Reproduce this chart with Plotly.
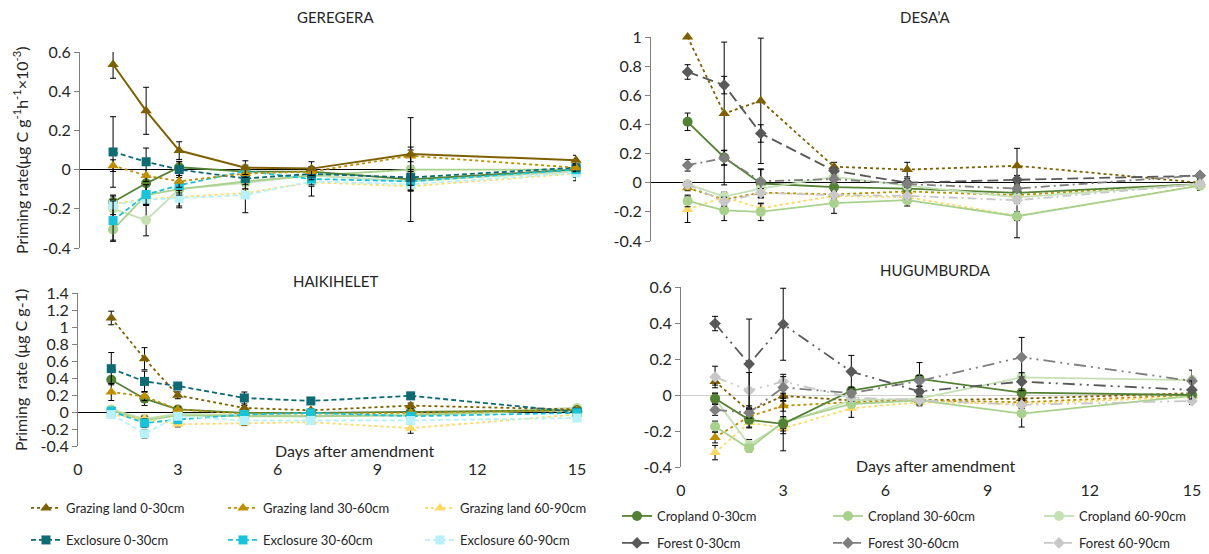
import plotly.graph_objects as go

DAYS = [1, 2, 3, 5, 7, 10, 15]
X_TICKS = [0, 3, 6, 9, 12, 15]
X_TICK_TEXT = ["0", "3", "6", "9", "12", "15"]

# ---------------- GEREGERA ----------------
ger_graz1 = [0.536, 0.30, 0.097, 0.01, 0.005, 0.08, 0.048]
ger_graz1_err = [0.07, 0.12, 0.045, 0.035, 0.035, 0.185, 0.025]
ger_graz2 = [0.02, -0.03, -0.06, -0.02, -0.01, 0.07, 0.01]
ger_graz2_err = [0.03, 0.03, 0.03, 0.02, 0.02, 0.03, 0.02]
ger_graz3 = [-0.175, -0.15, -0.14, -0.12, -0.065, -0.085, -0.02]
ger_graz3_err = [0.02, 0.02, 0.02, 0.02, 0.02, 0.02, 0.02]
ger_excl1 = [0.09, 0.04, 0.0, -0.045, -0.022, -0.04, 0.01]
ger_excl1_err = [0.18, 0.07, 0.04, 0.03, 0.03, 0.04, 0.02]
ger_excl2 = [-0.26, -0.127, -0.08, -0.007, -0.048, -0.06, 0.0]
ger_excl2_err = [0.1, 0.05, 0.05, 0.03, 0.03, 0.05, 0.02]
ger_excl3 = [-0.18, -0.153, -0.146, -0.13, -0.06, -0.075, -0.017]
ger_excl3_err = [0.05, 0.03, 0.04, 0.09, 0.075, 0.19, 0.04]
ger_crop1 = [-0.165, -0.07, 0.012, -0.01, -0.01, -0.05, 0.0]
ger_crop1_err = [0.03, 0.04, 0.03, 0.02, 0.02, 0.02, 0.02]
ger_crop2 = [-0.306, -0.13, -0.10, -0.06, -0.03, 0.0, 0.0]
ger_crop2_err = [0.06, 0.05, 0.03, 0.02, 0.02, 0.02, 0.02]
ger_crop3 = [-0.20, -0.258, -0.10, -0.068, -0.03, -0.06, -0.01]
ger_crop3_err = [0.05, 0.08, 0.095, 0.03, 0.02, 0.02, 0.02]

# ---------------- HAIKIHELET ----------------
hai_graz1 = [1.106, 0.627, 0.196, 0.047, 0.02, 0.075, 0.03]
hai_graz1_err = [0.08, 0.13, 0.04, 0.03, 0.02, 0.03, 0.02]
hai_graz2 = [0.235, 0.184, 0.03, -0.02, -0.02, -0.01, 0.02]
hai_graz2_err = [0.1, 0.05, 0.03, 0.02, 0.02, 0.02, 0.02]
hai_graz3 = [-0.03, -0.08, -0.145, -0.13, -0.12, -0.19, -0.03]
hai_graz3_err = [0.02, 0.03, 0.03, 0.03, 0.02, 0.06, 0.02]
hai_excl1 = [0.51, 0.36, 0.306, 0.165, 0.13, 0.19, 0.0]
hai_excl1_err = [0.19, 0.12, 0.03, 0.07, 0.02, 0.04, 0.02]
hai_excl2 = [0.01, -0.13, -0.09, -0.03, -0.01, -0.05, -0.01]
hai_excl2_err = [0.03, 0.05, 0.04, 0.03, 0.02, 0.02, 0.02]
hai_excl3 = [-0.03, -0.255, -0.05, -0.10, -0.10, -0.10, -0.07]
hai_excl3_err = [0.03, 0.05, 0.03, 0.03, 0.02, 0.02, 0.03]
hai_crop1 = [0.38, 0.157, 0.03, -0.01, -0.01, 0.0, 0.02]
hai_crop1_err = [0.03, 0.08, 0.02, 0.02, 0.02, 0.02, 0.02]
hai_crop2 = [0.02, -0.10, -0.04, -0.05, -0.05, -0.04, 0.03]
hai_crop2_err = [0.02, 0.05, 0.02, 0.02, 0.02, 0.02, 0.02]
hai_crop3 = [0.03, -0.08, -0.02, -0.04, -0.05, -0.03, 0.05]
hai_crop3_err = [0.02, 0.03, 0.02, 0.02, 0.02, 0.02, 0.02]

# ---------------- DESA'A ----------------
des_graz1 = [1.0, 0.475, 0.562, 0.11, 0.09, 0.116, 0.0]
des_graz1_err = [0.0, 0.49, 0.43, 0.03, 0.05, 0.12, 0.02]
des_graz2 = [-0.035, -0.115, -0.068, -0.08, -0.06, -0.085, -0.01]
des_graz2_err = [0.02, 0.03, 0.03, 0.02, 0.02, 0.02, 0.02]
des_graz3 = [-0.183, -0.10, -0.175, -0.09, -0.10, -0.228, -0.02]
des_graz3_err = [0.09, 0.03, 0.03, 0.03, 0.03, 0.15, 0.03]
des_crop1 = [0.418, 0.173, -0.005, -0.03, -0.04, -0.07, -0.01]
des_crop1_err = [0.06, 0.05, 0.1, 0.02, 0.02, 0.02, 0.02]
des_crop2 = [-0.125, -0.19, -0.20, -0.14, -0.12, -0.23, -0.02]
des_crop2_err = [0.04, 0.07, 0.06, 0.07, 0.04, 0.03, 0.03]
des_crop3 = [-0.01, -0.095, -0.04, 0.04, -0.02, -0.10, -0.01]
des_crop3_err = [0.02, 0.03, 0.03, 0.02, 0.02, 0.02, 0.02]
des_for1 = [0.76, 0.67, 0.338, 0.082, 0.0, 0.02, 0.048]
des_for1_err = [0.05, 0.06, 0.06, 0.02, 0.03, 0.03, 0.02]
des_for2 = [0.12, 0.17, 0.01, 0.025, -0.01, -0.04, 0.05]
des_for2_err = [0.04, 0.05, 0.08, 0.02, 0.02, 0.02, 0.02]
des_for3 = [-0.012, -0.13, -0.07, -0.085, -0.09, -0.12, -0.01]
des_for3_err = [0.02, 0.03, 0.03, 0.02, 0.02, 0.02, 0.02]

# ---------------- HUGUMBURDA ----------------
hug_graz1 = [0.075, -0.09, -0.005, -0.03, -0.03, -0.02, 0.01]
hug_graz1_err = [0.02, 0.03, 0.03, 0.02, 0.02, 0.02, 0.02]
hug_graz2 = [-0.236, -0.12, -0.06, -0.04, -0.03, -0.04, 0.0]
hug_graz2_err = [0.03, 0.04, 0.03, 0.02, 0.02, 0.02, 0.02]
hug_graz3 = [-0.32, -0.153, -0.185, -0.074, -0.04, -0.05, -0.01]
hug_graz3_err = [0.04, 0.03, 0.03, 0.05, 0.02, 0.02, 0.02]
hug_crop1 = [-0.02, -0.138, -0.16, 0.024, 0.09, 0.013, 0.0]
hug_crop1_err = [0.03, 0.04, 0.04, 0.02, 0.09, 0.02, 0.02]
hug_crop2 = [-0.175, -0.296, -0.15, -0.05, -0.03, -0.103, -0.005]
hug_crop2_err = [0.03, 0.02, 0.16, 0.02, 0.02, 0.075, 0.02]
hug_crop3 = [-0.02, -0.277, -0.157, -0.03, -0.02, 0.098, 0.083]
hug_crop3_err = [0.03, 0.03, 0.03, 0.02, 0.02, 0.02, 0.02]
hug_for1 = [0.397, 0.172, 0.393, 0.13, 0.02, 0.074, 0.028]
hug_for1_err = [0.04, 0.25, 0.2, 0.09, 0.03, 0.05, 0.05]
hug_for2 = [-0.083, -0.098, 0.042, 0.01, 0.078, 0.21, 0.078]
hug_for2_err = [0.03, 0.03, 0.06, 0.02, 0.03, 0.11, 0.06]
hug_for3 = [0.1, 0.025, 0.075, -0.015, -0.03, -0.055, -0.033]
hug_for3_err = [0.06, 0.1, 0.04, 0.02, 0.02, 0.02, 0.02]

# tick labels
GER_Y_TICKS = [-0.4, -0.2, 0, 0.2, 0.4, 0.6]
GER_Y_TEXT = ["-0.4", "-0.2", "0", "0.2", "0.4", "0.6"]
DES_Y_TICKS = [-0.4, -0.2, 0, 0.2, 0.4, 0.6, 0.8, 1.0]
DES_Y_TEXT = ["-0.4", "-0.2", "0", "0.2", "0.4", "0.6", "0.8", "1"]
HAI_Y_TICKS = [-0.4, -0.2, 0, 0.2, 0.4, 0.6, 0.8, 1.0, 1.2, 1.4]
HAI_Y_TEXT = ["-0.4", "-0.2", "0", "0.2", "0.4", "0.6", "0.8", "1", "1.2", "1.4"]
HUG_Y_TICKS = [-0.4, -0.2, 0, 0.2, 0.4, 0.6]
HUG_Y_TEXT = ["-0.4", "-0.2", "0", "0.2", "0.4", "0.6"]

# ---------------- styles ----------------
COL = {
    "g1": "#7F6000", "g2": "#BF8F00", "g3": "#FFD966",
    "e1": "#0E6A73", "e2": "#19C3DA", "e3": "#B8F1F9",
    "c1": "#548235", "c2": "#A9D18E", "c3": "#C5E0B4",
    "f1": "#595959", "f2": "#7F7F7F", "f3": "#C8C8C8",
}
SYM = {"g": "triangle-up", "e": "square", "c": "circle", "f": "diamond"}
SIZE = {"g": 10, "e": 9, "c": 10, "f": 9}
NAMES = {
    "g1": "Grazing land 0-30cm", "g2": "Grazing land 30-60cm", "g3": "Grazing land 60-90cm",
    "e1": "Exclosure 0-30cm", "e2": "Exclosure 30-60cm", "e3": "Exclosure 60-90cm",
    "c1": "Cropland 0-30cm", "c2": "Cropland 30-60cm", "c3": "Cropland 60-90cm",
    "f1": "Forest 0-30cm", "f2": "Forest 30-60cm", "f3": "Forest 60-90cm",
}
LEG = {"g": "legend", "e": "legend2", "c": "legend3", "f": "legend4"}
DASH_DEFAULT = {"g": "dot", "e": "5px,3px", "c": "solid", "f": "9px,4px,2px,4px"}

fig = go.Figure()


def add(key, y, err, xa, ya, show=False, dash=None, width=1.8):
    kind = key[0]
    fig.add_trace(go.Scatter(
        x=DAYS, y=y, xaxis=xa, yaxis=ya, name=NAMES[key],
        mode="lines+markers", cliponaxis=False,
        line=dict(color=COL[key], width=width, dash=dash or DASH_DEFAULT[kind]),
        marker=dict(symbol=SYM[kind], size=SIZE[kind], color=COL[key]),
        error_y=dict(type="data", array=err, color="black", thickness=1, width=3),
        showlegend=show, legend=LEG[kind],
    ))


# GEREGERA (x, y)
add("c3", ger_crop3, ger_crop3_err, "x", "y")
add("c2", ger_crop2, ger_crop2_err, "x", "y")
add("c1", ger_crop1, ger_crop1_err, "x", "y")
add("g3", ger_graz3, ger_graz3_err, "x", "y")
add("e3", ger_excl3, ger_excl3_err, "x", "y")
add("e2", ger_excl2, ger_excl2_err, "x", "y")
add("e1", ger_excl1, ger_excl1_err, "x", "y")
add("g2", ger_graz2, ger_graz2_err, "x", "y")
add("g1", ger_graz1, ger_graz1_err, "x", "y", dash="solid", width=2)

# HAIKIHELET (x3, y3) -- carries grazing / exclosure legend
add("c3", hai_crop3, hai_crop3_err, "x3", "y3")
add("c2", hai_crop2, hai_crop2_err, "x3", "y3")
add("c1", hai_crop1, hai_crop1_err, "x3", "y3")
add("g1", hai_graz1, hai_graz1_err, "x3", "y3", show=True)
add("g2", hai_graz2, hai_graz2_err, "x3", "y3", show=True)
add("g3", hai_graz3, hai_graz3_err, "x3", "y3", show=True)
add("e1", hai_excl1, hai_excl1_err, "x3", "y3", show=True)
add("e2", hai_excl2, hai_excl2_err, "x3", "y3", show=True)
add("e3", hai_excl3, hai_excl3_err, "x3", "y3", show=True)

# DESA'A (x2, y2) -- carries cropland / forest legend
add("g3", des_graz3, des_graz3_err, "x2", "y2")
add("g2", des_graz2, des_graz2_err, "x2", "y2")
add("g1", des_graz1, des_graz1_err, "x2", "y2")
add("c1", des_crop1, des_crop1_err, "x2", "y2", show=True)
add("c2", des_crop2, des_crop2_err, "x2", "y2", show=True)
add("c3", des_crop3, des_crop3_err, "x2", "y2", show=True)
add("f1", des_for1, des_for1_err, "x2", "y2", show=True, dash="11px,5px")
add("f2", des_for2, des_for2_err, "x2", "y2", show=True)
add("f3", des_for3, des_for3_err, "x2", "y2", show=True)

# HUGUMBURDA (x4, y4)
DDD = "12px,5px,2px,5px,2px,5px"
add("g1", hug_graz1, hug_graz1_err, "x4", "y4")
add("g2", hug_graz2, hug_graz2_err, "x4", "y4")
add("g3", hug_graz3, hug_graz3_err, "x4", "y4")
add("c3", hug_crop3, hug_crop3_err, "x4", "y4")
add("c2", hug_crop2, hug_crop2_err, "x4", "y4")
add("c1", hug_crop1, hug_crop1_err, "x4", "y4")
add("f3", hug_for3, hug_for3_err, "x4", "y4", dash=DDD)
add("f2", hug_for2, hug_for2_err, "x4", "y4", dash=DDD)
add("f1", hug_for1, hug_for1_err, "x4", "y4", dash=DDD)

W, H = 1209, 554
FONT = "Lato, 'Open Sans', sans-serif"
TXT = "#262626"


def px(v):
    return v / W


def py(v):
    return 1 - v / H


def yax(ticks, text, top, bottom, anchor, zcol="black"):
    return dict(
        range=[ticks[0], ticks[-1]], domain=[py(bottom), py(top)], anchor=anchor,
        tickvals=ticks, ticktext=text, showgrid=False,
        showline=True, linecolor="#808080", linewidth=1,
        ticks="outside", ticklen=5, tickcolor="#808080",
        zeroline=True, zerolinecolor=zcol, zerolinewidth=1,
        tickfont=dict(size=16, color=TXT, family=FONT),
    )


def xax(left, right, anchor, labels, standoff=0):
    d = dict(
        range=[0, 15], domain=[px(left), px(right)], anchor=anchor,
        showgrid=False, zeroline=False, showline=False,
        tickvals=X_TICKS, ticktext=X_TICK_TEXT,
        showticklabels=labels, ticks="",
        tickfont=dict(size=16, color=TXT, family=FONT),
    )
    if labels:
        d["ticklabelstandoff"] = standoff
    return d


fig.update_layout(
    width=W, height=H, margin=dict(l=0, r=0, t=0, b=0, autoexpand=False),
    paper_bgcolor="white", plot_bgcolor="rgba(0,0,0,0)",
    font=dict(family=FONT, color=TXT),
    xaxis=xax(80, 576, "y", False),
    yaxis=yax(GER_Y_TICKS, GER_Y_TEXT, 52, 248, "x"),
    xaxis2=xax(651, 1200, "y2", False),
    yaxis2=yax(DES_Y_TICKS, DES_Y_TEXT, 37, 241, "x2"),
    xaxis3=xax(78, 577, "y3", True, 12),
    yaxis3=yax(HAI_Y_TICKS, HAI_Y_TEXT, 293, 446, "x3"),
    xaxis4=xax(681, 1192, "y4", True, 12),
    yaxis4=yax(HUG_Y_TICKS, HUG_Y_TEXT, 287, 467, "x4", zcol="#D0D0D0"),
)

leg_common = dict(orientation="h", xanchor="left", yanchor="middle",
                  entrywidth=152, entrywidthmode="pixels",
                  font=dict(size=13, color=TXT, family=FONT),
                  bgcolor="rgba(0,0,0,0)", itemwidth=30, traceorder="normal")
fig.update_layout(
    legend=dict(leg_common, x=px(26), y=py(508)),
    legend2=dict(leg_common, x=px(26), y=py(540)),
    legend3=dict(leg_common, x=px(617), y=py(516), entrywidth=166),
    legend4=dict(leg_common, x=px(617), y=py(543), entrywidth=166),
)

ann = []


def label(text, x, y, size=14, angle=0):
    ann.append(dict(text=text, x=px(x), y=py(y), xref="paper", yref="paper",
                    showarrow=False, textangle=angle, xanchor="center", yanchor="middle",
                    font=dict(size=size, color=TXT, family=FONT)))


label("GEREGERA", 335, 17, 15)
label("DESA\u2019A", 925, 17, 15)
label("HAIKIHELET", 335, 281, 15)
label("HUGUMBURDA", 935, 270, 15)
label("Days after amendment", 354, 450, 16)
label("Days after amendment", 935, 465, 16)
label("Priming rate(\u03bcg C g<sup>-1</sup>h<sup>-1</sup>\u00d710<sup>-3</sup>)", 20, 150, 16, -90)
label("Priming  rate (\u03bcg C g-1)", 20, 370, 16, -90)
fig.update_layout(annotations=ann)

fig.write_html("out.html")
